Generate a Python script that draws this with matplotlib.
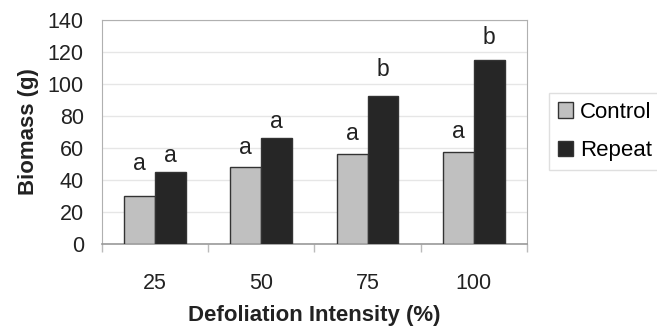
import numpy as np
from matplotlib import pyplot as plt

plt.rcParams['font.family'] = ['Liberation Sans', 'DejaVu Sans']

intensity = ['25', '50', '75', '100']
control = [30, 48, 56, 57]
repeat = [45, 66, 92, 115]
control_letters = ['a', 'a', 'a', 'a']
repeat_letters = ['a', 'a', 'b', 'b']
control_letter_y = [46, 56, 65, 66]
repeat_letter_y = [51, 72, 105, 125]

fig = plt.figure(figsize=(6.57, 3.31), dpi=100)
ax = fig.add_axes([0.155, 0.264, 0.647, 0.677])

x = np.arange(len(intensity))
w = 0.29
ax.bar(x - w / 2, control, w, color='#c0c0c0', edgecolor='#333333', linewidth=1, label='Control', zorder=3)
ax.bar(x + w / 2, repeat, w, color='#262626', edgecolor='#333333', linewidth=1, label='Repeat', zorder=3)

for i in range(len(x)):
    ax.text(x[i] - w / 2, control_letter_y[i], control_letters[i], ha='center', va='baseline', fontsize=16.5, color='#222222')
    ax.text(x[i] + w / 2, repeat_letter_y[i], repeat_letters[i], ha='center', va='baseline', fontsize=16.5, color='#222222')

ax.set_xlim(-0.5, len(x) - 0.5)
ax.set_ylim(0, 140)
ax.set_yticks(np.arange(0, 141, 20))
ax.set_xticks(x)
ax.set_xticklabels(intensity)
ax.set_xticks(np.arange(-0.5, len(x), 1), minor=True)
ax.tick_params(axis='x', which='major', length=0, pad=21, labelsize=15.5, labelcolor='#222222')
ax.tick_params(axis='x', which='minor', length=6, color='#bbbbbb', width=1)
ax.tick_params(axis='y', length=0, pad=13, labelsize=15.5, labelcolor='#222222')
ax.grid(axis='y', color='#e6e6e6', linewidth=1, zorder=0)

for s in ['top', 'right', 'left']:
    ax.spines[s].set_color('#b0b0b0')
ax.spines['bottom'].set_color('#999999')
ax.spines['bottom'].set_linewidth(1.2)

ax.set_ylabel('Biomass (g)', fontsize=16, fontweight='bold', labelpad=6, color='#222222')
ax.set_xlabel('Defoliation Intensity (%)', fontsize=16, fontweight='bold', labelpad=8, color='#222222')

leg = ax.legend(loc='center left', bbox_to_anchor=(1.025, 0.50), fontsize=16, frameon=True,
                fancybox=False, edgecolor='#d8d8d8', handlelength=0.7, handleheight=0.7,
                handletextpad=0.3, borderpad=0.4, labelspacing=0.8)
leg.get_frame().set_linewidth(1)

plt.savefig('out.png', dpi=100)
